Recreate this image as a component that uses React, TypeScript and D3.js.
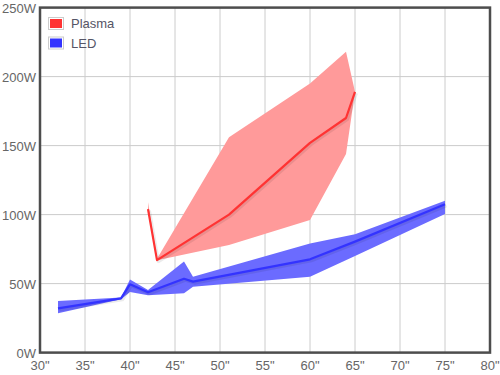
import { useEffect, useRef } from 'react';
import * as d3 from 'd3';

// screen size in inches vs. power draw in watts
const plasmaSize = [42, 43, 51, 60, 64, 65];
const plasmaAvg = [104, 67, 100, 152, 170, 189];
const plasmaLow = [103, 67, 78, 96, 144, 189];
const plasmaHigh = [109, 68, 156, 195, 218, 189];

const ledSize = [32, 39, 40, 42, 46, 47, 60, 65, 75];
const ledAvg = [32, 39.3, 49.5, 43.7, 53.5, 51.4, 67.6, 80.4, 107.5];
const ledLow = [28.6, 38.6, 44, 41.5, 43, 47.7, 55, 70, 100.4];
const ledHigh = [37.4, 40, 53, 45.4, 66, 55, 79, 85.7, 110];

const xTicks = [30, 35, 40, 45, 50, 55, 60, 65, 70, 75, 80];
const yTicks = [0, 50, 100, 150, 200, 250];

const seriesNames = ['Plasma', 'LED'];
const seriesColors = ['#ff3333', '#3333ff'];
const bandColors = ['#ff9a9a', '#6b6bff'];

type Pt = { x: number; avg: number; lo: number; hi: number };

const App = () => {
  const svgRef = useRef<SVGSVGElement>(null);

  useEffect(() => {
    const width = 500;
    const height = 375;
    const margin = { top: 7.6, right: 10, bottom: 22.4, left: 40 };

    const svg = d3.select(svgRef.current);
    svg.selectAll('*').remove();

    const x = d3.scaleLinear().domain([30, 80]).range([margin.left, width - margin.right]);
    const y = d3.scaleLinear().domain([0, 250]).range([height - margin.bottom, margin.top]);

    const font = '"Liberation Sans", Arial, sans-serif';

    // grid
    const grid = svg.append('g');
    grid
      .selectAll('line.v')
      .data(xTicks.slice(1, -1))
      .enter()
      .append('line')
      .attr('x1', (d) => x(d))
      .attr('x2', (d) => x(d))
      .attr('y1', y(250))
      .attr('y2', y(0))
      .attr('stroke', '#cccccc')
      .attr('stroke-width', 1);
    grid
      .selectAll('line.h')
      .data(yTicks.slice(1, -1))
      .enter()
      .append('line')
      .attr('x1', x(30))
      .attr('x2', x(80))
      .attr('y1', (d) => y(d))
      .attr('y2', (d) => y(d))
      .attr('stroke', '#cccccc')
      .attr('stroke-width', 1);

    const series: Pt[][] = [
      plasmaSize.map((s, i) => ({ x: s, avg: plasmaAvg[i], lo: plasmaLow[i], hi: plasmaHigh[i] })),
      ledSize.map((s, i) => ({ x: s, avg: ledAvg[i], lo: ledLow[i], hi: ledHigh[i] })),
    ];

    const area = d3
      .area<Pt>()
      .x((d) => x(d.x))
      .y0((d) => y(d.lo))
      .y1((d) => y(d.hi));
    const line = d3
      .line<Pt>()
      .x((d) => x(d.x))
      .y((d) => y(d.avg));

    series.forEach((data, i) => {
      svg.append('path').attr('d', area(data)).attr('fill', bandColors[i]);
    });

    series.forEach((data, i) => {
      // shadow
      svg
        .append('path')
        .attr('d', line(data))
        .attr('fill', 'none')
        .attr('stroke', 'rgba(0,0,0,0.08)')
        .attr('stroke-width', 3)
        .attr('stroke-linejoin', 'round')
        .attr('transform', 'translate(1.5,1.5)');
      svg
        .append('path')
        .attr('d', line(data))
        .attr('fill', 'none')
        .attr('stroke', seriesColors[i])
        .attr('stroke-width', 2.2)
        .attr('stroke-linejoin', 'round');
    });

    // frame
    svg
      .append('rect')
      .attr('x', x(30))
      .attr('y', y(250))
      .attr('width', x(80) - x(30))
      .attr('height', y(0) - y(250))
      .attr('fill', 'none')
      .attr('stroke', '#4d4d4d')
      .attr('stroke-width', 2.5);

    // y labels
    svg
      .selectAll('text.y')
      .data(yTicks)
      .enter()
      .append('text')
      .attr('x', 36)
      .attr('y', (d) => y(d) + 5)
      .attr('text-anchor', 'end')
      .attr('font-family', font)
      .attr('font-size', 13)
      .attr('fill', '#666666')
      .text((d) => `${d}W`);

    // x labels
    svg
      .selectAll('text.x')
      .data(xTicks)
      .enter()
      .append('text')
      .attr('x', (d) => x(d))
      .attr('y', 370)
      .attr('text-anchor', 'middle')
      .attr('font-family', font)
      .attr('font-size', 13)
      .attr('fill', '#666666')
      .text((d) => `${d}"`);

    // legend
    const legend = svg.append('g').attr('transform', 'translate(48,17)');
    seriesNames.forEach((name, i) => {
      const g = legend.append('g').attr('transform', `translate(0,${i * 19.5})`);
      g.append('rect')
        .attr('x', 0.5)
        .attr('y', 0.5)
        .attr('width', 15)
        .attr('height', 12)
        .attr('fill', '#ffffff')
        .attr('stroke', '#cccccc');
      g.append('rect')
        .attr('x', 2)
        .attr('y', 2)
        .attr('width', 12)
        .attr('height', 9)
        .attr('fill', seriesColors[i]);
      g.append('text')
        .attr('x', 23)
        .attr('y', 11)
        .attr('font-family', font)
        .attr('font-size', 13)
        .attr('fill', '#555566')
        .text(name);
    });

    return () => {
      d3.select(svgRef.current).selectAll('*').remove();
    };
  }, []);

  return (
    <svg
      ref={svgRef}
      width={500}
      height={375}
      style={{ position: 'absolute', left: 0, top: 0, background: '#ffffff' }}
    ></svg>
  );
};

export default App;
